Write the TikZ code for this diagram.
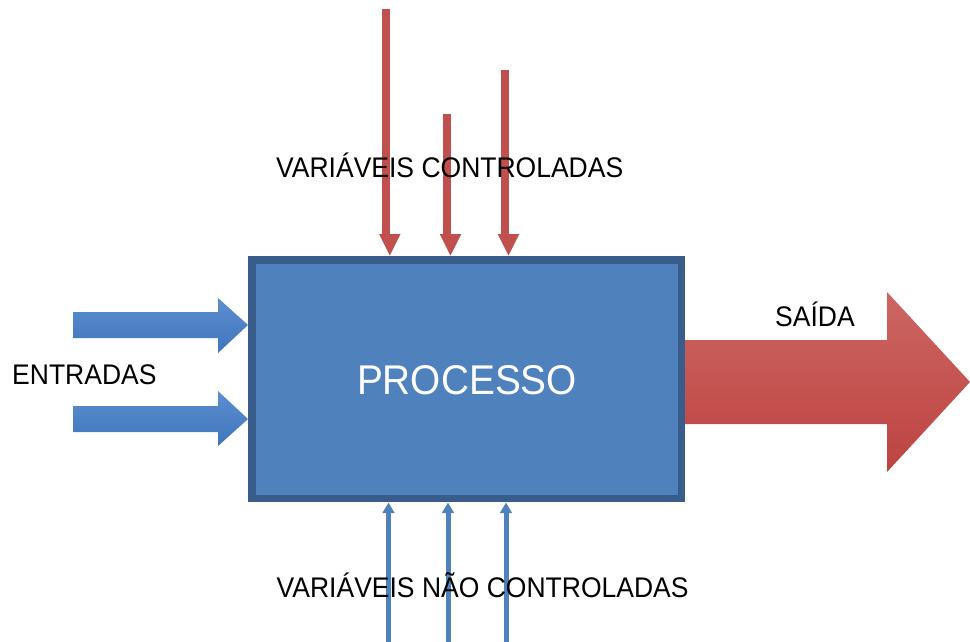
\documentclass[tikz,border=0pt]{standalone}
\usepackage{fontspec}
\setmainfont{Liberation Sans}
\usetikzlibrary{arrows.meta}
\definecolor{boxfill}{RGB}{79,129,189}
\definecolor{boxline}{RGB}{56,93,138}
\definecolor{redc}{RGB}{192,80,77}
\definecolor{bluec}{RGB}{79,129,189}
\definecolor{bluetop}{RGB}{92,143,208}
\definecolor{bluebot}{RGB}{62,117,188}
\definecolor{redtop}{RGB}{204,102,99}
\definecolor{redbot}{RGB}{189,67,64}
\newcommand{\tallish}[1]{\scalebox{1}[1.07]{#1}}
\tikzset{
  lbl/.style={inner sep=0pt, anchor=base west, font=\fontsize{26.5}{30}\selectfont, text=black},
  redshaft/.style={draw=redc, line width=7.7pt, line cap=butt},
  redhead/.style={fill=redc},
  blueline/.style={draw=bluec, line width=5pt, -{Triangle[width=11.5pt,length=10.5pt]}},
  bluearrow/.style={top color=bluetop, bottom color=bluebot, draw=none},
  redarrow/.style={top color=redtop, bottom color=redbot, draw=none},
}
\begin{document}
\begin{tikzpicture}[x=1pt,y=-1pt]
\useasboundingbox (0,0) rectangle (970,642);
% process box
\node[draw=boxline, fill=boxfill, line width=7.5pt, minimum width=429.5pt, minimum height=238.5pt, inner sep=0pt] (box) at (466.5,379) {};
\node[inner sep=0pt, anchor=base, text=white, font=\fontsize{38.8}{42}\selectfont] (proc) at (467,394) {\tallish{PROCESSO}};
% input block arrows
\path[bluearrow] (73,312) -- (218,312) -- (218,298) -- (248,325) -- (218,353) -- (218,338) -- (73,338) -- cycle;
\path[bluearrow] (73,406) -- (218,406) -- (218,391) -- (248,419) -- (218,446) -- (218,432) -- (73,432) -- cycle;
% output block arrow
\path[redarrow] (685,340) -- (887,340) -- (887,292) -- (970,382) -- (887,472) -- (887,424) -- (685,424) -- cycle;
% controlled variables (top red arrows)
\coordinate (s1) at (386.2,9);   \coordinate (b1) at (386.2,234);
\coordinate (s2) at (446.8,114); \coordinate (b2) at (446.8,234);
\coordinate (s3) at (505.2,70);  \coordinate (b3) at (505.2,234);
\draw[redshaft] (s1) -- (b1);
\draw[redshaft] (s2) -- (b2);
\draw[redshaft] (s3) -- (b3);
\fill[redhead] (379,234) -- (400.6,234) -- (389.8,255.5) -- cycle;
\fill[redhead] (439.7,234) -- (461.3,234) -- (450.5,255.5) -- cycle;
\fill[redhead] (497.7,234) -- (519.3,234) -- (508.5,255.5) -- cycle;
% uncontrolled variables (bottom blue arrows)
\coordinate (u1) at (388.5,642); \coordinate (v1) at (388.5,502.5);
\coordinate (u2) at (448,642);   \coordinate (v2) at (448,502.5);
\coordinate (u3) at (506,642);   \coordinate (v3) at (506,502.5);
\draw[blueline] (u1) -- (v1);
\draw[blueline] (u2) -- (v2);
\draw[blueline] (u3) -- (v3);
% labels
\node[lbl] (ctl) at (276,177.5) {\tallish{VARIÁVEIS CONTROLADAS}};
\node[lbl] (unc) at (276.5,597.5) {\tallish{VARIÁVEIS NÃO CONTROLADAS}};
\node[lbl] (ent) at (12,384.5) {\tallish{ENTRADAS}};
\node[lbl] (sai) at (775,326.5) {\tallish{SAÍDA}};
\end{tikzpicture}
\end{document}
